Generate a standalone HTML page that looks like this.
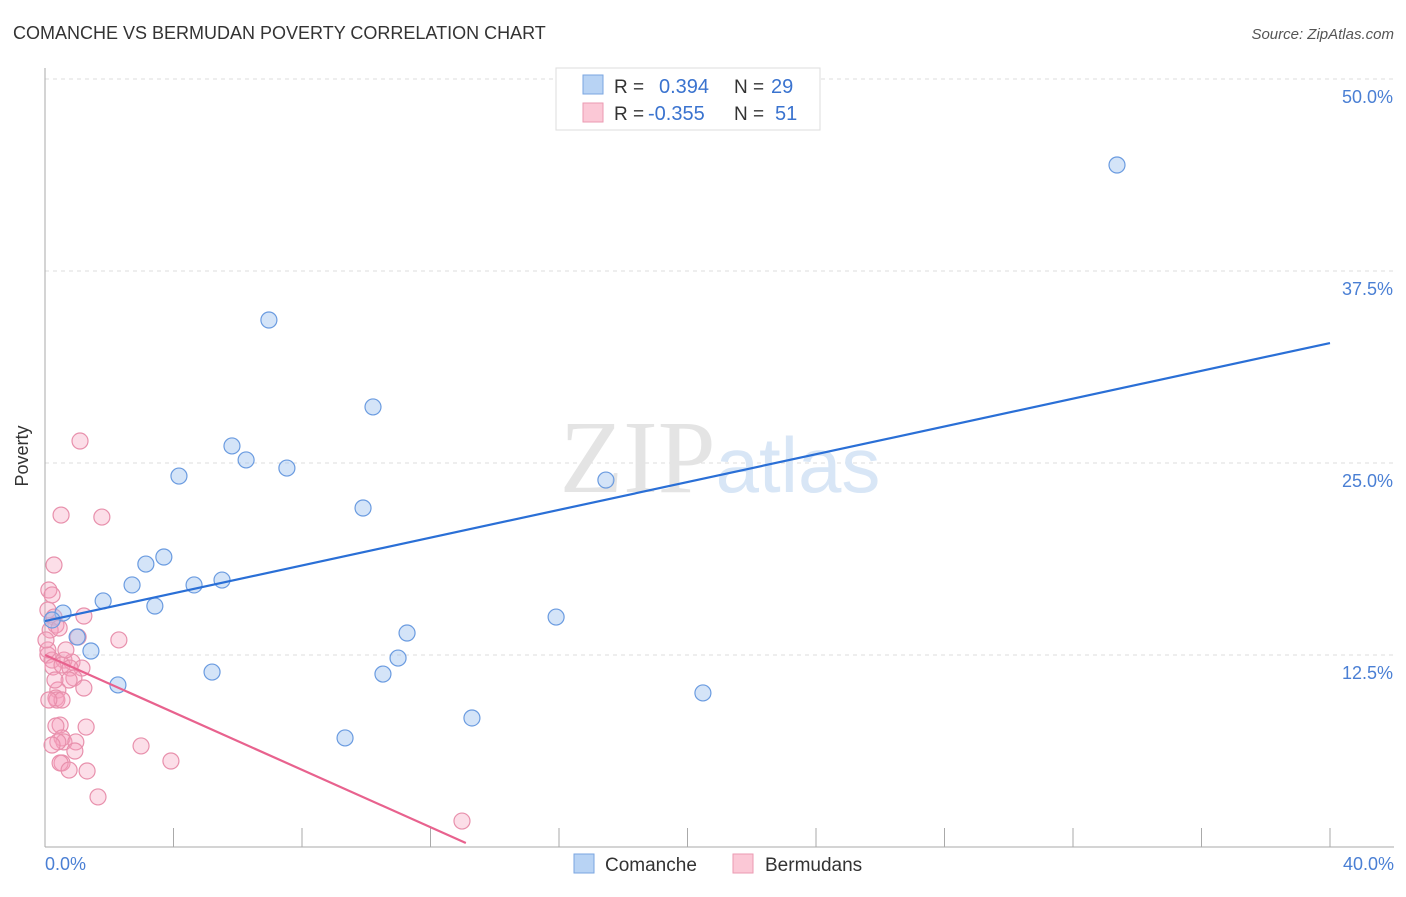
<!DOCTYPE html>
<html><head><meta charset="utf-8"><style>
body{margin:0;background:#fff;font-family:"Liberation Sans",sans-serif}
svg text{font-family:"Liberation Sans",sans-serif}
</style></head><body>
<svg width="1406" height="892" viewBox="0 0 1406 892">
<text x="13" y="39" font-size="18" fill="#333">COMANCHE VS BERMUDAN POVERTY CORRELATION CHART</text>
<text x="1394" y="39" font-size="15" fill="#555" text-anchor="end" font-style="italic">Source: ZipAtlas.com</text>
<g id="grid"></g>
<text x="720" y="492" font-size="104" fill="#e4e4e4" text-anchor="middle" font-family="Liberation Serif"><tspan font-family="Liberation Serif">ZIP</tspan><tspan fill="#d8e6f6" font-size="78" font-family="Liberation Sans">atlas</tspan></text>
<line x1="45" y1="68" x2="45" y2="847" stroke="#aaa"/>
<line x1="45" y1="847" x2="1394" y2="847" stroke="#aaa"/>
<g id="ticks"></g>
<g id="pinkpts"></g><g id="bluepts"></g><g id="lines"></g>
<text x="28" y="456" font-size="18" fill="#333" text-anchor="middle" transform="rotate(-90 28 456)">Poverty</text>
<text x="45" y="870" font-size="18" fill="#4a7fd4">0.0%</text>
<text x="1394" y="870" font-size="18" fill="#4a7fd4" text-anchor="end">40.0%</text>
<g>
<rect x="556" y="68" width="264" height="62" fill="#fff" stroke="#ddd"/>
<rect x="583" y="75" width="20" height="19" fill="#b8d3f4" stroke="#7aa6e0"/>
<rect x="583" y="103" width="20" height="19" fill="#fbc8d6" stroke="#eb9ab2"/>
<text x="614" y="93" font-size="19" fill="#333">R =</text><text x="659" y="93" font-size="20" fill="#3a73cf">0.394</text>
<text x="734" y="93" font-size="19" fill="#333">N =</text><text x="771" y="93" font-size="20" fill="#3a73cf">29</text>
<text x="614" y="120" font-size="19" fill="#333">R =</text><text x="648" y="120" font-size="20" fill="#3a73cf">-0.355</text>
<text x="734" y="120" font-size="19" fill="#333">N =</text><text x="775" y="120" font-size="20" fill="#3a73cf">51</text>
</g>
<g>
<rect x="574" y="854" width="20" height="19" fill="#b8d3f4" stroke="#7aa6e0"/>
<text x="605" y="871" font-size="19" fill="#333">Comanche</text>
<rect x="733" y="854" width="20" height="19" fill="#fbc8d6" stroke="#eb9ab2"/>
<text x="765" y="871" font-size="19" fill="#333">Bermudans</text>
</g>
</svg>
<script>
const yTicks=[12.5,25,37.5,50];
const yTickLabels=["12.5%","25.0%","37.5%","50.0%"];
const xTicks=[0,4,8,12,16,20,24,28,32,36,40];
const blueX=[33.37,6.97,10.21,5.82,6.26,7.53,4.17,17.46,9.90,3.70,3.14,2.71,4.64,5.51,1.81,3.42,0.56,15.91,11.27,1.00,1.43,10.99,5.20,10.52,2.27,20.48,13.29,9.34,0.22];
const blueY=[44.40,34.31,28.65,26.11,25.20,24.67,24.15,23.89,22.07,18.88,18.42,17.06,17.06,17.38,16.02,15.69,15.23,14.97,13.93,13.67,12.76,12.30,11.39,11.26,10.55,10.03,8.40,7.10,14.78];
const pinkX=[1.09,0.50,1.77,0.28,0.12,0.22,0.09,0.28,1.21,0.34,0.16,0.44,1.03,2.30,0.09,0.22,0.59,0.84,0.25,0.53,1.15,0.78,0.90,0.75,1.21,0.40,0.34,0.37,0.47,1.28,0.34,0.53,0.59,0.40,0.96,0.22,0.93,2.99,0.53,0.47,0.75,1.31,3.92,1.65,12.98,0.53,0.12,0.09,0.31,0.65,0.03];
const pinkY=[26.43,21.61,21.48,18.36,16.73,16.41,15.43,14.97,15.04,14.45,14.13,14.26,13.67,13.48,12.50,12.17,12.17,12.04,11.72,11.85,11.65,11.65,11.00,10.87,10.35,10.22,9.70,9.57,7.94,7.81,7.88,7.10,6.84,6.84,6.84,6.64,6.25,6.58,5.47,5.47,5.01,4.95,5.60,3.26,1.69,9.57,9.57,12.83,10.87,12.83,13.48];
const blueLine=[[0,14.71],[40,32.81]];
const pinkLine=[[0,12.5],[13.1,0.26]];
const NS="http://www.w3.org/2000/svg";
const sx=v=>45+v/40*1285, sy=v=>847-v/50*768;
function mk(t,a,p){const e=document.createElementNS(NS,t);for(const k in a)e.setAttribute(k,a[k]);document.getElementById(p).appendChild(e);return e;}
yTicks.forEach((t,i)=>{
 const l=mk('line',{x1:45,x2:1394,y1:sy(t),y2:sy(t),stroke:'#ddd','stroke-dasharray':'4,4'},'grid');
 
 
 const tx=mk('text',{x:1393,y:sy(t)+24,'font-size':18,fill:'#4a7fd4','text-anchor':'end'},'grid');
 tx.textContent=yTickLabels[i];
 
 
});
xTicks.forEach(t=>{
 const l=mk('line',{x1:sx(t),x2:sx(t),y1:828,y2:847,stroke:'#aaa'},'ticks');
 
 
});
pinkX.forEach((x,i)=>{
 const c=mk('circle',{cx:sx(x),cy:sy(pinkY[i]),r:8,fill:'rgba(245,160,190,0.35)',stroke:'#e890ac','stroke-width':1.2},'pinkpts');
 
 
});
blueX.forEach((x,i)=>{
 const c=mk('circle',{cx:sx(x),cy:sy(blueY[i]),r:8,fill:'rgba(160,196,240,0.45)',stroke:'#6a9be0','stroke-width':1.2},'bluepts');
 
 
});
const bl=mk('line',{x1:sx(blueLine[0][0]),y1:sy(blueLine[0][1]),x2:sx(blueLine[1][0]),y2:sy(blueLine[1][1]),stroke:'#2a6fd6','stroke-width':2.2},'lines');


const pl=mk('line',{x1:sx(pinkLine[0][0]),y1:sy(pinkLine[0][1]),x2:sx(pinkLine[1][0]),y2:sy(pinkLine[1][1]),stroke:'#e8628e','stroke-width':2.2},'lines');


</script>
</body></html>
